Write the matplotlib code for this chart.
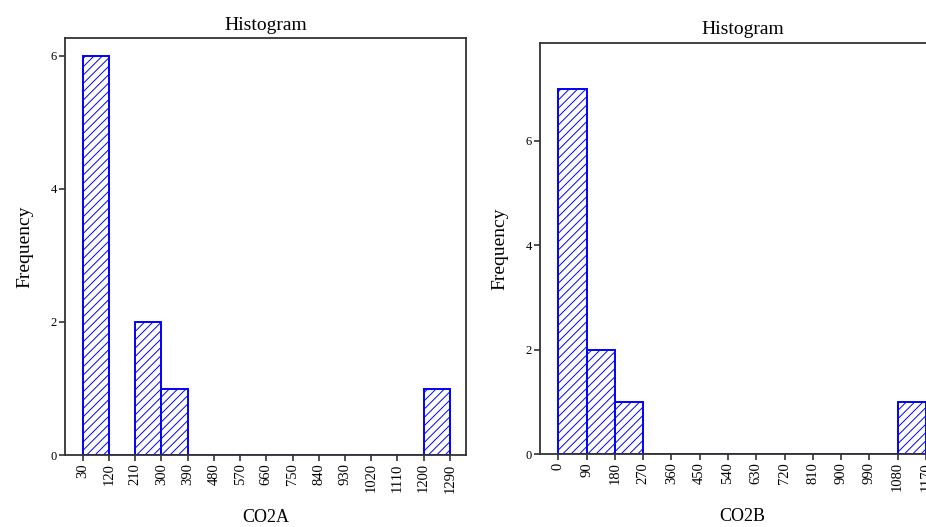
import numpy as np
import matplotlib
matplotlib.use("Agg")
import matplotlib.pyplot as plt

# bin edges and counts
co2a_edges = [30, 120, 210, 300, 390, 480, 570, 660, 750, 840, 930, 1020, 1110, 1200, 1290]
co2a_counts = [6, 0, 2, 1, 0, 0, 0, 0, 0, 0, 0, 0, 0, 1]

co2b_edges = [0, 90, 180, 270, 360, 450, 540, 630, 720, 810, 900, 990, 1080, 1170]
co2b_counts = [7, 2, 1, 0, 0, 0, 0, 0, 0, 0, 0, 0, 1]

plt.rcParams['font.family'] = ['Liberation Serif', 'DejaVu Serif']
plt.rcParams['hatch.color'] = 'blue'
plt.rcParams['hatch.linewidth'] = 0.7

fig = plt.figure(figsize=(9.26, 5.27), dpi=100)

# left panel, right panel runs off the edge of the figure like the original
ax1 = fig.add_axes([0.0702, 0.1366, 0.4330, 0.7913])
ax2 = fig.add_axes([0.5832, 0.1385, 0.4371, 0.7805])


def draw_hist(ax, edges, counts, xlabel, xlim, ylim, yticks):
    edges = np.asarray(edges)
    widths = np.diff(edges)
    ax.bar(edges[:-1], counts, width=widths, align='edge',
           facecolor='white', edgecolor='blue', linewidth=1.4, hatch='////')
    ax.set_xticks(edges)
    ax.set_xticklabels([str(e) for e in edges], rotation=90, fontsize=10.5)
    ax.set_yticks(yticks)
    ax.set_yticklabels([str(t) for t in yticks], fontsize=9)
    ax.set_xlim(*xlim)
    ax.set_ylim(*ylim)
    ax.tick_params(direction='out', length=4, width=1.2, color='#333333', pad=2)
    for s in ax.spines.values():
        s.set_color('#333333')
        s.set_linewidth(1.3)
    ax.set_title('Histogram', fontsize=14, pad=6)
    ax.set_xlabel(xlabel, fontsize=13, labelpad=12)
    ax.set_ylabel('Frequency', fontsize=14, labelpad=12)


draw_hist(ax1, co2a_edges, co2a_counts, 'CO2A', (-31, 1345), (0, 6.27), [0, 2, 4, 6])
draw_hist(ax2, co2b_edges, co2b_counts, 'CO2B', (-58, 1230), (0, 7.88), [0, 2, 4, 6])

fig.savefig('out.png', dpi=100)
